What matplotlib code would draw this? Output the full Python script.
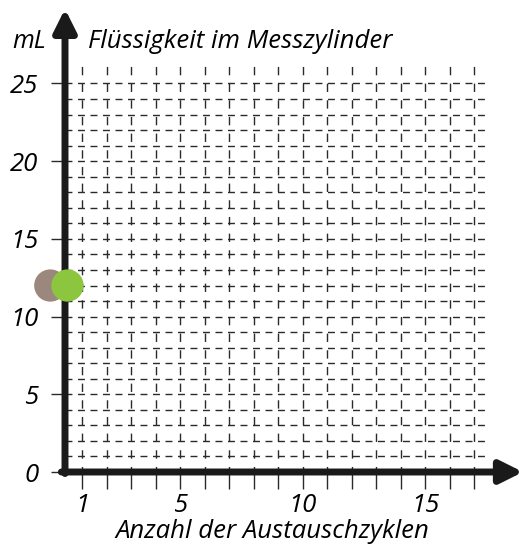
import matplotlib
matplotlib.use("Agg")
import matplotlib.pyplot as plt
import numpy as np

plt.rcParams['font.family'] = ['Open Sans', 'DejaVu Sans']

# data
cycle_ticks = list(range(1, 18))
cycle_labels = {1: "1", 5: "5", 10: "10", 15: "15"}
ml_ticks = [0, 5, 10, 15, 20, 25]
grid_rows = list(range(1, 26))
point_x = [-0.3, 0.4]
point_y = [12, 12]
point_colors = ["#9c877d", "#8cc63f"]

W, H = 525, 548
fig = plt.figure(figsize=(W / 100, H / 100), dpi=100)
ax = fig.add_axes([65 / W, 76 / H, (523 - 65) / W, 460 / H])
ax.set_xlim(0.3, 19.0)
ax.set_ylim(0, 29.6)
for s in ax.spines.values():
    s.set_visible(False)

# dashed grid
ax.hlines(grid_rows, 0.3, 17.65, colors="#2a2a2a", lw=1.0,
          linestyles=(0, (5, 4)), zorder=1)
ax.vlines(cycle_ticks, 0, 26.1, colors="#2a2a2a", lw=1.0,
          linestyles=(2, (6, 6)), zorder=1)

# axes with arrows
arrow = dict(arrowstyle="-|>", lw=5, color="#1a1a1a",
             mutation_scale=34, shrinkA=0, shrinkB=0)
ax.annotate("", xy=(19.0, 0), xytext=(0.15, 0), arrowprops=arrow,
            annotation_clip=False, zorder=3)
ax.annotate("", xy=(0.3, 29.8), xytext=(0.3, -0.1), arrowprops=arrow,
            annotation_clip=False, zorder=3)

# ticks
ax.set_xticks(cycle_ticks)
ax.set_xticklabels([cycle_labels.get(t, "") for t in cycle_ticks])
ax.tick_params(axis="x", length=12, width=1.0, color="#2a2a2a", pad=3)
ax.set_yticks(ml_ticks)
ax.set_yticklabels([str(t) for t in ml_ticks])
ax.tick_params(axis="y", length=10, width=1.0, color="#2a2a2a", pad=9)
for lbl in ax.get_xticklabels() + ax.get_yticklabels():
    lbl.set_fontstyle("italic")
    lbl.set_fontsize(18.5)

# points
ax.scatter(point_x, point_y, s=540, c=point_colors, zorder=4,
           clip_on=False, linewidths=0)

fig.text(12 / W, 1 - 41 / H, "mL", fontsize=18, style="italic",
         va="center", ha="left")
fig.text(88 / W, 1 - 41 / H, "Flüssigkeit im Messzylinder", fontsize=18.5,
         style="italic", va="center", ha="left")
fig.text(272 / W, 1 - 532 / H, "Anzahl der Austauschzyklen", fontsize=18.5,
         style="italic", va="center", ha="center")

fig.savefig("out.png", dpi=100)
